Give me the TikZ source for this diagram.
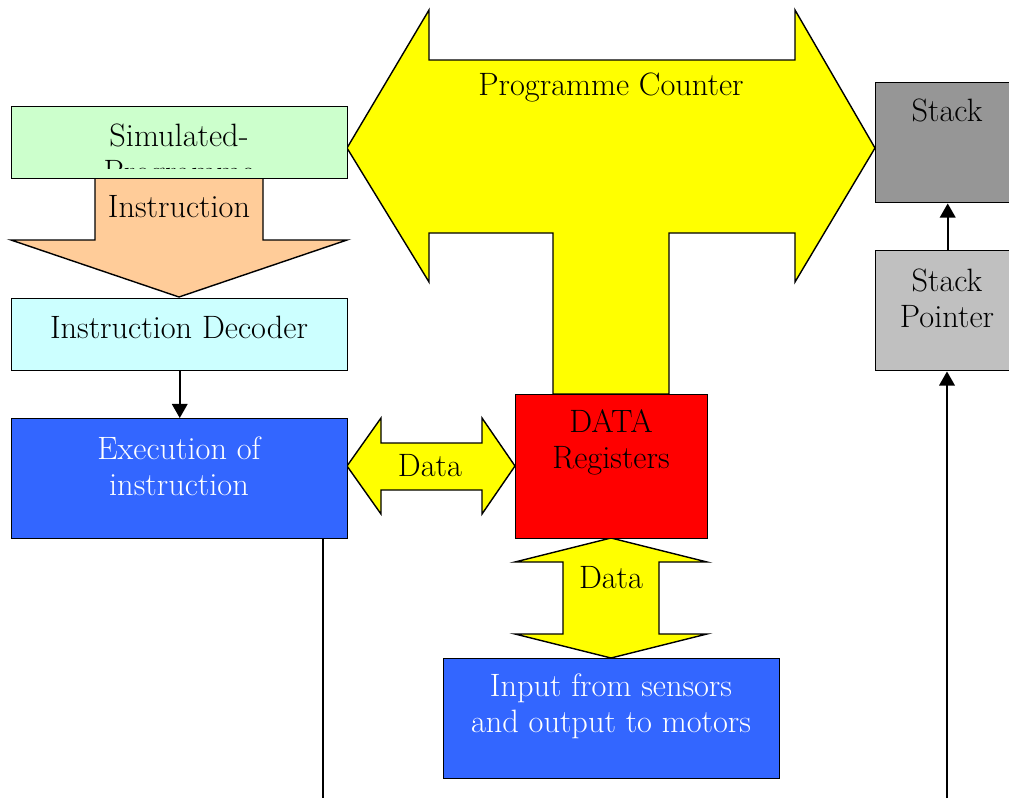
\documentclass[tikz,border=0pt]{standalone}
\usepackage{tikz,color}
\usetikzlibrary{arrows.meta}

\definecolor{progGreen}{HTML}{CCFFCC}
\definecolor{instrPeach}{HTML}{FFCC99}
\definecolor{decCyan}{HTML}{CCFFFF}
\definecolor{execBlue}{HTML}{3366FF}
\definecolor{busYellow}{HTML}{FFFF00}
\definecolor{regRed}{HTML}{FF0000}
\definecolor{stackGray}{HTML}{969696}
\definecolor{ptrGray}{HTML}{C0C0C0}

\tikzset{
  box/.style={draw, line width=1pt, rectangle, anchor=north west, inner sep=0pt},
  blockarrow/.style={draw, line width=1pt, line join=miter},
  txt/.style={align=center, font=\fontsize{23}{25.6}\selectfont, inner sep=0pt},
  wire/.style={line width=1.4pt, -{Triangle[width=11pt,length=10pt]}}
}

\begin{document}
\begin{tikzpicture}[x=0.025cm, y=-0.025cm]

\useasboundingbox (0,0) rectangle (1009,798);

\draw [blockarrow, fill=busYellow]
  (347,148) -- (429,10) -- (429,60) -- (795,60) -- (795,10) -- (875,148)
  -- (795,282) -- (795,233) -- (669,233) -- (669,394) -- (553,394)
  -- (553,233) -- (429,233) -- (429,282) -- cycle;

\draw [blockarrow, fill=instrPeach]
  (95,178) -- (263,178) -- (263,240) -- (347,240) -- (179,297)
  -- (11,240) -- (95,240) -- cycle;

\draw [blockarrow, fill=busYellow]
  (347,466) -- (381,418) -- (381,443) -- (482,443) -- (482,418) -- (515,466)
  -- (482,514) -- (482,490) -- (381,490) -- (381,514) -- cycle;

\draw [blockarrow, fill=busYellow]
  (611,538) -- (707,562) -- (659,562) -- (659,634) -- (707,634) -- (611,658)
  -- (515,634) -- (563,634) -- (563,562) -- (515,562) -- cycle;

\node [box, fill=progGreen, minimum width=8.4cm, minimum height=1.8cm] (prog) at (11,106) {};
\node [box, fill=decCyan, minimum width=8.4cm, minimum height=1.8cm] (decoder) at (11,298) {};
\node [box, fill=execBlue, minimum width=8.4cm, minimum height=3cm] (exec) at (11,418) {};
\node [box, fill=stackGray, minimum width=3.6cm, minimum height=3cm] (stack) at (875,82) {};
\node [box, fill=ptrGray, minimum width=3.6cm, minimum height=3cm] (stackptr) at (875,250) {};
\node [box, fill=regRed, minimum width=4.8cm, minimum height=3.6cm] (regs) at (515,394) {};
\node [box, fill=execBlue, minimum width=8.4cm, minimum height=3cm] (io) at (443,658) {};

% second line of the title is cut off by the text frame
\begin{scope}
  \clip (prog.north west) rectangle (prog.east |- 0,168);
  \node [txt] (progtext) at (179,156) {Simulated-\\Programme};
\end{scope}

\node [txt] (instrtext) at (179,207) {Instruction};
\node [txt] (dectext) at (179,327) {Instruction Decoder};
\node [txt, text=white] (exectext) at (179,466) {Execution of\\instruction};
\node [txt] (pctext) at (611,87) {Programme Counter};
\node [txt] (stacktext) at (947,110) {Stack};
\node [txt] (ptrtext) at (947,298) {Stack\\Pointer};
\node [txt] (regtext) at (611,442) {DATA\\Registers};
\node [txt] (datah) at (430,466) {Data};
\node [txt] (datav) at (611,578) {Data};
\node [txt, text=white] (iotext) at (611,706) {Input from sensors\\and output to motors};

\coordinate (execfoot) at (323,798);
\coordinate (ptrfoot) at (947,798);

\draw [wire] (decoder) -- (exec);
\draw [wire] (stackptr) -- (stack);
\draw [wire] (ptrfoot) -- (ptrfoot |- stackptr.south);
\draw [line width=1pt] (exec.south -| execfoot) -- (execfoot);

\end{tikzpicture}
\end{document}
